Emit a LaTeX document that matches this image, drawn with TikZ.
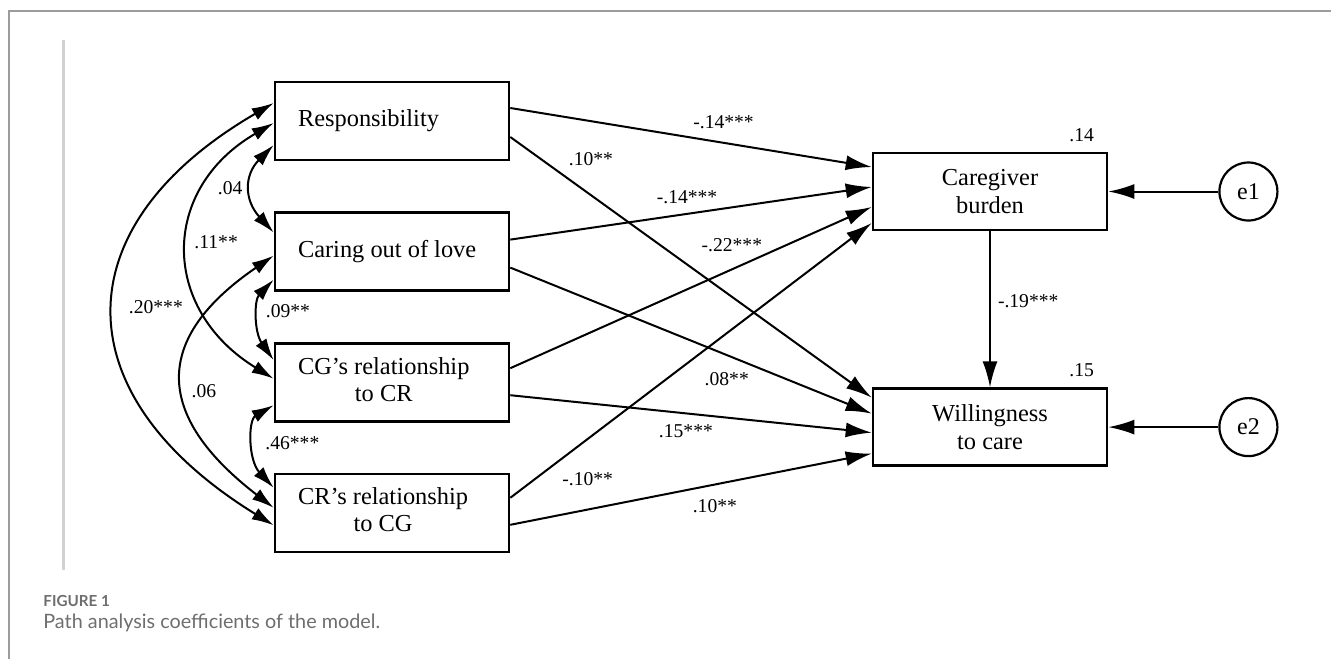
\documentclass[tikz,border=0pt]{standalone}
\usepackage{fontspec}
\setmainfont{Liberation Serif}
\newfontfamily\capfont{Lato}
\usetikzlibrary{positioning}
\usetikzlibrary{arrows.meta}
\usetikzlibrary{calc}
\definecolor{capgray}{HTML}{6E6E6E}
\definecolor{framegray}{HTML}{9C9C9C}
\definecolor{bargray}{HTML}{D2D2D2}
\newcommand{\predtext}[1]{\makebox[94pt][l]{\begin{tabular}{@{}c@{}}#1\end{tabular}}}
\tikzset{
 varbox/.style={
 rectangle,
 draw=black, line width=1.3pt,
 minimum width=117pt,
 minimum height=39pt,
 inner sep=0pt,
 align=center,
 font=\fontsize{12.2}{13.6}\selectfont},
 predbox/.style={
 varbox,
 inner xsep=11.5pt},
 errnode/.style={
 circle,
 draw=black, line width=1.1pt,
 minimum size=29pt,
 inner sep=0pt,
 font=\fontsize{12}{13}\selectfont},
 effect/.style={line width=1pt, -{Latex[length=13pt,width=7.5pt]}},
 cov/.style={line width=1pt, {Latex[length=11pt,width=6.5pt]}-{Latex[length=11pt,width=6.5pt]}},
 coef/.style={inner sep=0pt, font=\fontsize{9.8}{10}\selectfont}
}

\begin{document}
\begin{tikzpicture}[x=0.5pt, y=-0.5pt]
 \useasboundingbox (0,0) rectangle (1331,659);

 % frame and side bar
 \draw[framegray, line width=0.75pt] (9,659) -- (9,11) -- (1331,11);
 \draw[bargray, line width=1.5pt] (63,40) -- (63,570);

 % predictors
 \node[predbox] (resp) at (392,121) {\predtext{Responsibility}};
 \node[predbox, below=25pt of resp] (love) {\predtext{Caring out of love}};
 \node[predbox, below=25pt of love] (cgcr) {\predtext{CG’s relationship\\to CR}};
 \node[predbox, below=25pt of cgcr] (crcg) {\predtext{CR’s relationship\\to CG}};

 % outcomes
 \node[varbox, minimum height=38.5pt] (burden) at (990,191.5) {Caregiver\\burden};
 \node[varbox, minimum height=38.5pt, below=78pt of burden] (will) {Willingness\\to care};

 \node[errnode, right=55pt of burden] (e1) {e1};
 \node[errnode, right=55pt of will] (e2) {e2};

 \node[coef, anchor=south east] (rburden) at ($(burden.north east)+(-14,-10)$) {.14};
 \node[coef, anchor=south east] (rwill) at ($(will.north east)+(-14,-10)$) {.15};

 % covariances
 \draw[cov] ($(resp.west)+(0,-18)$) .. controls (62,226) and (62,395) .. ($(crcg.west)+(0,12.5)$)
 node[coef, pos=0.5, anchor=west, xshift=6.5pt, yshift=2pt] (c20) {.20***};
 \draw[cov] ($(resp.west)+(0,2)$) .. controls (160,189) and (160,309) .. ($(cgcr.west)+(0,-3.5)$)
 node[coef, pos=0.5, anchor=west, xshift=2.5pt, yshift=3.5pt] (c11) {.11**};
 \draw[cov] ($(love.west)+(0,4)$) .. controls (153,338) and (153,415) .. ($(crcg.west)+(0,-5)$)
 node[coef, pos=0.5, anchor=west, xshift=3.75pt, yshift=-6.75pt] (c06) {.06};
 \draw[cov] ($(resp.west)+(0,24)$) .. controls (244,175) and (244,200) .. ($(love.west)+(0,-19)$)
 node[coef, pos=0.5, anchor=east, xshift=-4pt] (c04) {.04};
 \draw[cov] ($(love.west)+(0,28)$) .. controls (254,300) and (254,332) .. ($(cgcr.west)+(0,-22)$)
 node[coef, pos=0.5, anchor=west, xshift=3pt, yshift=3pt] (c09) {.09**};
 \draw[cov] ($(cgcr.west)+(0,23)$) .. controls (248,420) and (248,460) .. ($(crcg.west)+(0,-25)$)
 node[coef, pos=0.5, anchor=west, xshift=5pt, yshift=-1pt] (c46) {.46***};

 % paths to caregiver burden
 \draw[effect] ($(resp.east)+(0,-13)$) -- ($(burden.west)+(0,-24.5)$)
 node[coef, pos=0.59, yshift=10.3pt] (p1) {-.14***};
 \draw[effect] ($(love.east)+(0,-12)$) -- ($(burden.west)+(0,-4.5)$)
 node[coef, pos=0.489, yshift=8.5pt] (p3) {-.14***};
 \draw[effect] ($(cgcr.east)+(0,-14)$) -- ($(burden.west)+(0,15.5)$)
 node[coef, pos=0.613, yshift=12.2pt] (p5) {-.22***};
 \draw[effect] ($(crcg.east)+(0,-15)$) -- ($(burden.west)+(0,31.5)$)
 node[coef, pos=0.214, yshift=-20.2pt] (p7) {-.10**};

 % paths to willingness
 \draw[effect] ($(resp.east)+(0,16)$) -- ($(will.west)+(0,-29.5)$)
 node[coef, pos=0.223, yshift=18pt] (p2) {.10**};
 \draw[effect] ($(love.east)+(0,16)$) -- ($(will.west)+(0,-13.5)$)
 node[coef, pos=0.599, yshift=-12.2pt] (p4) {.08**};
 \draw[effect] ($(cgcr.east)+(0,13)$) -- ($(will.west)+(0,5.5)$)
 node[coef, pos=0.486, yshift=-8.8pt] (p6) {.15***};
 \draw[effect] ($(crcg.east)+(0,12)$) -- ($(will.west)+(0,26.5)$)
 node[coef, pos=0.566, yshift=-10.6pt] (p8) {.10**};

 \draw[effect] (burden) -- (will)
 node[coef, pos=0.45, anchor=west, xshift=3.5pt] (p9) {-.19***};
 \draw[effect] (e1) -- (burden);
 \draw[effect] (e2) -- (will);

 % caption
 \node[anchor=west, inner sep=0pt, text=capgray, font=\capfont\bfseries\fontsize{7.6}{9}\selectfont] (figno) at (43,601) {FIGURE 1};
 \node[anchor=west, inner sep=0pt, text=capgray, font=\capfont\fontsize{9.9}{12}\selectfont] (figcap) at (43,623) {Path analysis coefficients of the model.};
\end{tikzpicture}
\end{document}
